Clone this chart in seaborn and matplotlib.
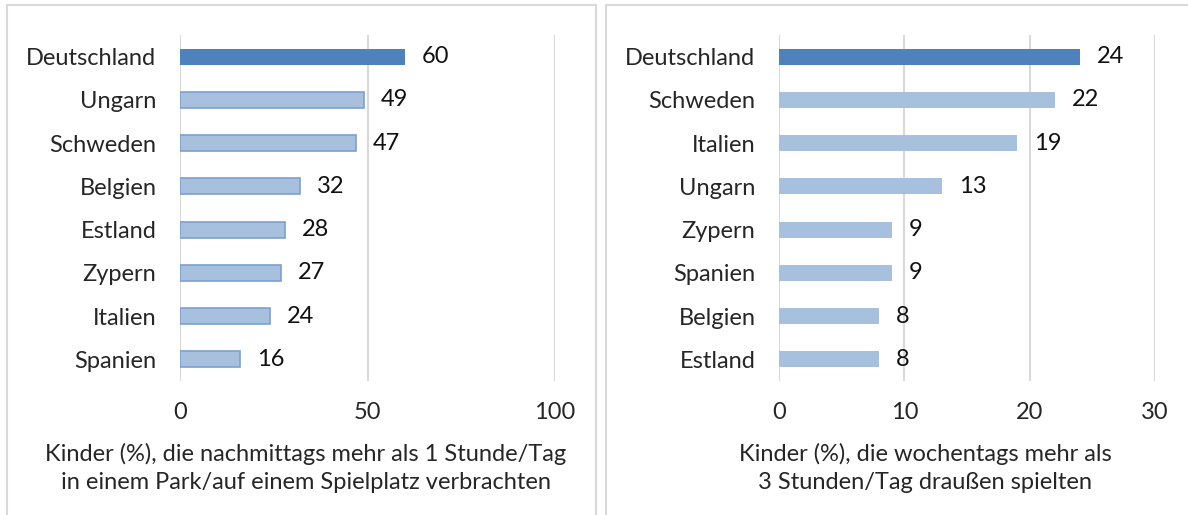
import matplotlib
matplotlib.use("Agg")
import matplotlib.pyplot as plt
import seaborn as sns
import pandas as pd
from matplotlib.patches import Rectangle

# DATA
park_countries = ["Deutschland", "Ungarn", "Schweden", "Belgien", "Estland", "Zypern", "Italien", "Spanien"]
park_values = [60, 49, 47, 32, 28, 27, 24, 16]
park_ticks = [0, 50, 100]
park_label = "Kinder (%), die nachmittags mehr als 1 Stunde/Tag\nin einem Park/auf einem Spielplatz verbrachten"

play_countries = ["Deutschland", "Schweden", "Italien", "Ungarn", "Zypern", "Spanien", "Belgien", "Estland"]
play_values = [24, 22, 19, 13, 9, 9, 8, 8]
play_ticks = [0, 10, 20, 30]
play_label = "Kinder (%), die wochentags mehr als\n3 Stunden/Tag draußen spielten"

# STYLING
sns.set_style("white")
plt.rcParams['font.family'] = ['Lato', 'DejaVu Sans']
dark = "#4F81BD"
light = "#A7C0DE"
grid = "#D9D9D9"
fs = 17

fig = plt.figure(figsize=(11.88, 5.15), dpi=100)
W, H = 1188, 515

# panel frames
fig.patches.append(Rectangle((7 / W, -0.1), (596 - 7) / W, 1.1 - 5 / H, transform=fig.transFigure,
                             fill=False, edgecolor=grid, linewidth=1.5))
fig.patches.append(Rectangle((606 / W, -0.1), 0.5, 1.1 - 5 / H, transform=fig.transFigure,
                             fill=False, edgecolor=grid, linewidth=1.5))


def panel(left, right, countries, values, ticks, edge):
    ax = fig.add_axes([left / W, 1 - 381 / H, (right - left) / W, 346 / H])
    df = pd.DataFrame({"land": countries, "wert": values})
    pal = [dark] + [light] * (len(countries) - 1)
    sns.barplot(data=df, y="land", x="wert", hue="land", palette=pal, legend=False,
                orient="h", width=0.37, saturation=1, ax=ax, zorder=3)
    for i, p in enumerate(ax.patches):
        if edge and i > 0:
            p.set_edgecolor("#7BA0D0")
            p.set_linewidth(1.2)
        else:
            p.set_edgecolor("none")
    for c in ax.containers:
        ax.bar_label(c, padding=12, fontsize=fs, color="#111111")
    ax.set_xlim(ticks[0], ticks[-1])
    ax.set_ylim(len(countries) - 0.5, -0.5)
    ax.set_xticks(ticks)
    for t in ticks:
        ax.axvline(t, color=grid, linewidth=1.5, zorder=0)
    sns.despine(ax=ax, left=True, bottom=True)
    ax.tick_params(axis="x", length=0, pad=15, labelsize=fs)
    ax.tick_params(axis="y", length=0, pad=17, labelsize=fs)
    ax.set_xlabel("")
    ax.set_ylabel("")
    return ax


panel(180, 555, park_countries, park_values, park_ticks, True)
panel(779, 1155, play_countries, play_values, play_ticks, False)

fig.text(306 / W, 1 - 468 / H, park_label, ha="center", va="center", fontsize=fs, linespacing=1.45)
fig.text(925 / W, 1 - 468 / H, play_label, ha="center", va="center", fontsize=fs, linespacing=1.45)

fig.savefig("out.png", dpi=100)
